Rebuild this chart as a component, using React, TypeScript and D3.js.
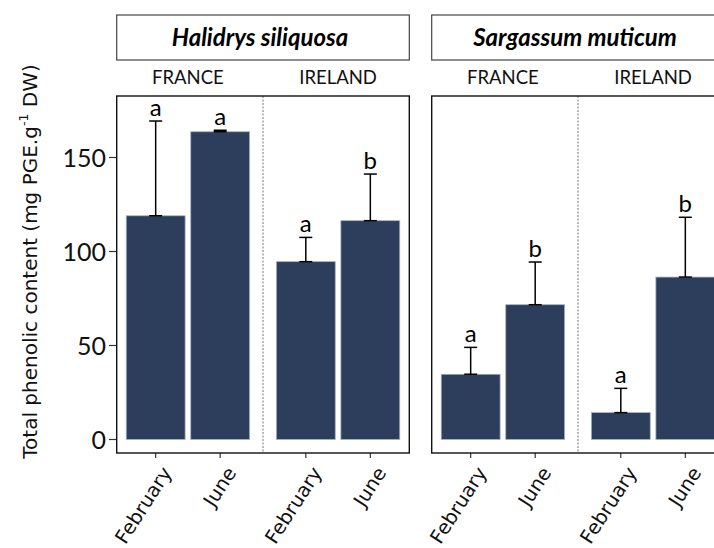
import React from "react";
import * as d3 from "d3";

const species = ["Halidrys siliquosa", "Sargassum muticum"];
const sites = ["FRANCE", "IRELAND"];
const months = ["February", "June"];
// means[species][site][month]
const means = [
  [[119.0, 163.7], [94.6, 116.4]],
  [[34.7, 71.7], [14.3, 86.4]],
];
const errors = [
  [[50.4, 0.8], [12.9, 24.8]],
  [[14.3, 22.7], [12.9, 31.8]],
];
const letters = [
  [["a", "a"], ["a", "b"]],
  [["a", "b"], ["a", "b"]],
];
const yTicks = [0, 50, 100, 150];

const W = 714;
const H = 548;
const panelTop = 96;
const panelBottom = 453;
const panelW = 292.6;
const panelLefts = [116.7, 431.7];
const stripTop = 15;
const stripBottom = 60;
const GAP = 0.327;
const OUTER = 0.604;
const BAR_FRAC = 0.913;
const BAR = "#2c3e5c";
const SANS = "Lato, 'Open Sans', sans-serif";
const DJ = "'DejaVu Sans', sans-serif";

export default function App() {
  const y = d3.scaleLinear().domain([0, 150]).range([439.5, 157.5]);
  const pos = (si: number, mi: number) => si * (months.length + GAP) + mi;
  const lastPos = pos(sites.length - 1, months.length - 1);

  return (
    <svg
      width={W}
      height={H}
      style={{ position: "absolute", left: 0, top: 0, background: "#fff" }}
    >
      {/* y axis title */}
      <text
        transform={`translate(37,${261.5}) rotate(-90)`}
        textAnchor="middle"
        fontFamily={DJ}
        fontSize={20}
        fill="#111"
      >
        Total phenolic content (mg PGE.g
        <tspan fontSize={12.5} dy={-9}>-1</tspan>
        <tspan dy={9}> DW)</tspan>
      </text>

      {/* y ticks */}
      {yTicks.map((t) => (
        <g key={t}>
          <line x1={109} x2={panelLefts[0]} y1={y(t)} y2={y(t)} stroke="#333" strokeWidth={1.2} />
          <text
            x={106}
            y={y(t)}
            dy="0.36em"
            textAnchor="end"
            fontFamily={SANS}
            fontSize={25}
            fill="#111"
          >
            {t}
          </text>
        </g>
      ))}

      {species.map((sp, pi) => {
        const x0 = panelLefts[pi];
        const x = d3
          .scaleLinear()
          .domain([-OUTER, lastPos + OUTER])
          .range([x0, x0 + panelW]);
        const step = x(1) - x(0);
        const bw = step * BAR_FRAC;
        const sepX = x((pos(0, months.length - 1) + pos(1, 0)) / 2);
        return (
          <g key={sp}>
            {/* strip */}
            <rect
              x={x0}
              y={stripTop}
              width={panelW}
              height={stripBottom - stripTop}
              fill="#fff"
              stroke="#444"
              strokeWidth={1.2}
            />
            <text
              x={x0 + panelW / 2 - 3}
              y={(stripTop + stripBottom) / 2}
              dy="0.36em"
              textAnchor="middle"
              fontFamily={SANS}
              fontStyle="italic"
              fontWeight="bold"
              fontSize={24}
              fill="#000"
            >
              {sp}
            </text>
            {/* site labels */}
            {sites.map((s, si) => (
              <text
                key={s}
                x={(x(pos(si, 0)) + x(pos(si, 1))) / 2}
                y={77}
                dy="0.36em"
                textAnchor="middle"
                fontFamily={SANS}
                fontSize={18.5}
                fill="#111"
              >
                {s}
              </text>
            ))}
            {/* bars */}
            {sites.map((s, si) =>
              months.map((m, mi) => {
                const cx = x(pos(si, mi));
                const v = means[pi][si][mi];
                const top = v + errors[pi][si][mi];
                return (
                  <g key={s + m}>
                    <rect
                      x={cx - bw / 2}
                      y={y(v)}
                      width={bw}
                      height={y(0) - y(v)}
                      fill={BAR}
                      stroke="#a9b3c2"
                      strokeWidth={0.8}
                    />
                    <line x1={cx} x2={cx} y1={y(v)} y2={y(top)} stroke="#000" strokeWidth={1.5} />
                    <line x1={cx - 6.5} x2={cx + 6.5} y1={y(top)} y2={y(top)} stroke="#000" strokeWidth={1.5} />
                    <line x1={cx - 6.5} x2={cx + 6.5} y1={y(v)} y2={y(v)} stroke="#000" strokeWidth={1.5} />
                    <text
                      x={cx}
                      y={y(top) - 5}
                      textAnchor="middle"
                      fontFamily={SANS}
                      fontSize={24}
                      fill="#000"
                    >
                      {letters[pi][si][mi]}
                    </text>
                    {/* x tick */}
                    <line x1={cx} x2={cx} y1={panelBottom} y2={panelBottom + 5} stroke="#333" strokeWidth={1.2} />
                    <text
                      transform={`translate(${cx + 5},${465}) rotate(-57)`}
                      textAnchor="end"
                      dy="0.72em"
                      fontFamily={DJ}
                      fontSize={19.5}
                      fill="#111"
                    >
                      {m}
                    </text>
                  </g>
                );
              })
            )}
            {/* separator */}
            <line
              x1={sepX}
              x2={sepX}
              y1={panelTop}
              y2={panelBottom}
              stroke="#777"
              strokeWidth={1}
              strokeDasharray="2,1.5"
            />
            {/* panel border */}
            <rect
              x={x0}
              y={panelTop}
              width={panelW}
              height={panelBottom - panelTop}
              fill="none"
              stroke="#111"
              strokeWidth={1.4}
            />
          </g>
        );
      })}
    </svg>
  );
}
